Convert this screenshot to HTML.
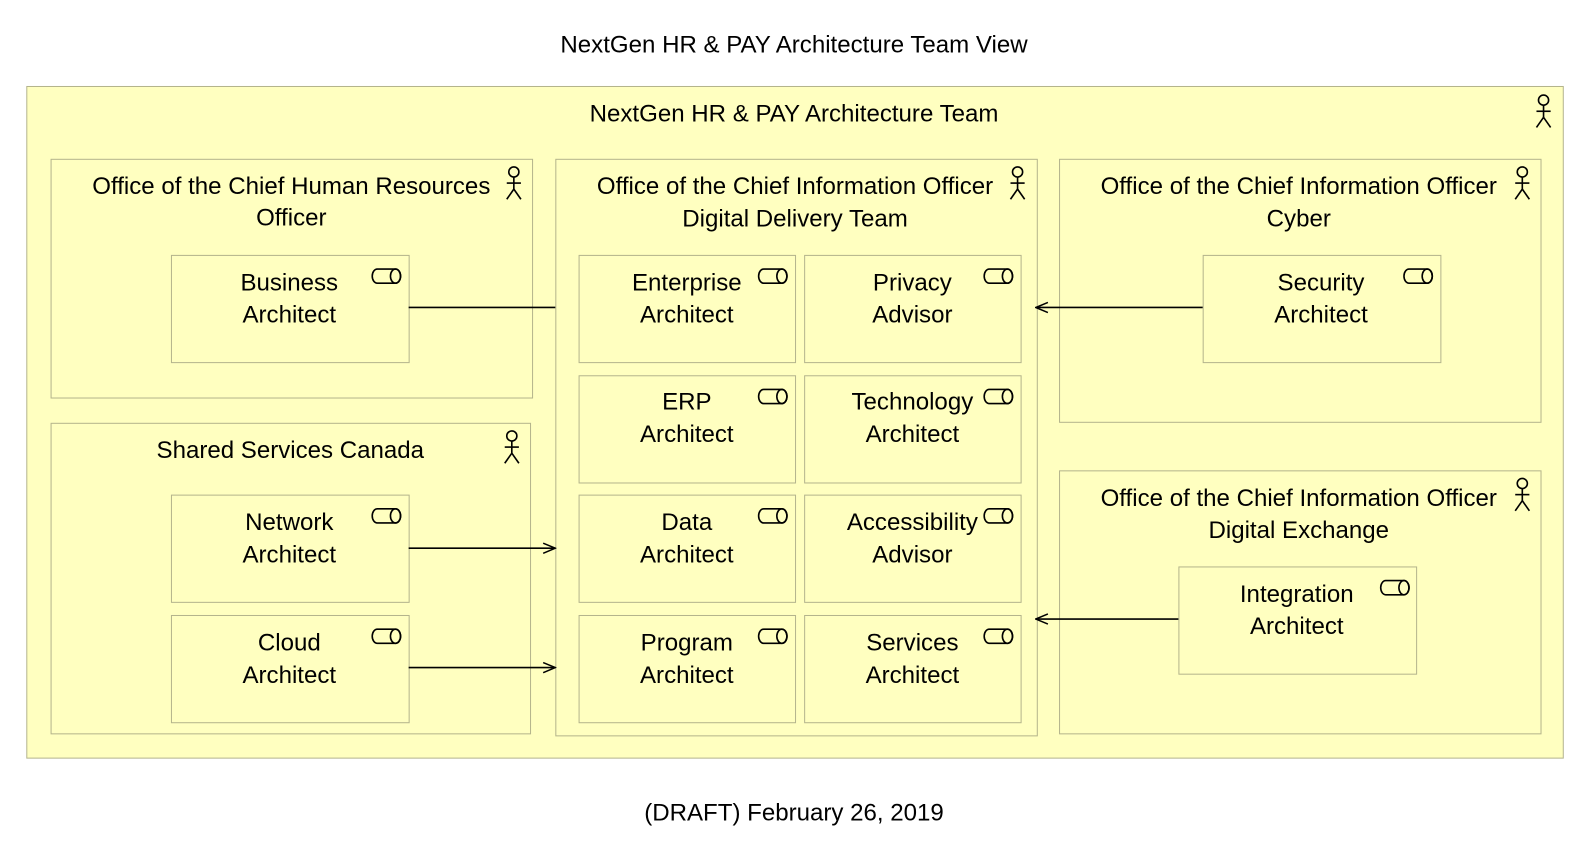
<!DOCTYPE html>
<html><head><meta charset="utf-8"><style>
html,body{margin:0;padding:0;background:#fff;overflow:hidden;width:1586px;height:860px}
svg{display:block}
svg text{font-family:"Liberation Sans",sans-serif;font-size:23.8px;fill:#000;text-anchor:middle}
.b{fill:#ffffc0;stroke:#b4b48c;stroke-width:1}
</style></head><body>
<svg width="1586" height="860" xmlns="http://www.w3.org/2000/svg">
<defs>
<g id="act" fill="none" stroke="#000" stroke-width="1.6"><circle cx="0" cy="-11" r="5"/><line x1="0" y1="-6" x2="0" y2="6"/><line x1="-7" y1="0" x2="7" y2="0"/><line x1="0" y1="6" x2="-7" y2="16"/><line x1="0" y1="6" x2="7" y2="16"/></g>
<g id="role" fill="none" stroke="#000" stroke-width="1.6"><path d="M-9,-7 H9 A5,7 0 0 1 9,7 H-9 A5,7 0 0 1 -9,-7 Z"/><ellipse cx="9" cy="0" rx="5" ry="7"/></g>
<marker id="ar" markerWidth="14" markerHeight="12" refX="13" refY="6" orient="auto" markerUnits="userSpaceOnUse"><path d="M1,1 L13,6 L1,11" fill="none" stroke="#000" stroke-width="1.5"/></marker>
</defs>
<g transform="scale(1.0115)">
<text x="785" y="52">NextGen HR &amp; PAY Architecture Team View</text>
<rect class="b" x="26.5" y="85.5" width="1519" height="664"/>
<text x="785" y="120">NextGen HR &amp; PAY Architecture Team</text>
<use href="#act" x="1526" y="110"/>

<rect class="b" x="50.5" y="157.5" width="476" height="236"/>
<text x="288" y="192">Office of the Chief Human Resources</text><text x="288" y="223">Officer</text>
<use href="#act" x="508" y="181"/>
<rect class="b" x="169.5" y="252.5" width="235" height="106"/>
<text x="286" y="287">Business</text><text x="286" y="319">Architect</text><use href="#role" x="382" y="273"/>

<rect class="b" x="50.5" y="418.5" width="474" height="307"/>
<text x="287" y="453">Shared Services Canada</text>
<use href="#act" x="506" y="442"/>
<rect class="b" x="169.5" y="489.5" width="235" height="106"/>
<text x="286" y="524">Network</text><text x="286" y="556">Architect</text><use href="#role" x="382" y="510"/>
<rect class="b" x="169.5" y="608.5" width="235" height="106"/>
<text x="286" y="643">Cloud</text><text x="286" y="675">Architect</text><use href="#role" x="382" y="629"/>

<rect class="b" x="549.5" y="157.5" width="476" height="570"/>
<text x="786" y="192">Office of the Chief Information Officer</text><text x="786" y="224">Digital Delivery Team</text>
<use href="#act" x="1006" y="181"/>
<rect class="b" x="572.5" y="252.5" width="214" height="106"/><text x="679" y="287">Enterprise</text><text x="679" y="319">Architect</text><use href="#role" x="764" y="273"/>
<rect class="b" x="795.5" y="252.5" width="214" height="106"/><text x="902" y="287">Privacy</text><text x="902" y="319">Advisor</text><use href="#role" x="987" y="273"/>
<rect class="b" x="572.5" y="371.5" width="214" height="106"/><text x="679" y="405">ERP</text><text x="679" y="437">Architect</text><use href="#role" x="764" y="392"/>
<rect class="b" x="795.5" y="371.5" width="214" height="106"/><text x="902" y="405">Technology</text><text x="902" y="437">Architect</text><use href="#role" x="987" y="392"/>
<rect class="b" x="572.5" y="489.5" width="214" height="106"/><text x="679" y="524">Data</text><text x="679" y="556">Architect</text><use href="#role" x="764" y="510"/>
<rect class="b" x="795.5" y="489.5" width="214" height="106"/><text x="902" y="524">Accessibility</text><text x="902" y="556">Advisor</text><use href="#role" x="987" y="510"/>
<rect class="b" x="572.5" y="608.5" width="214" height="106"/><text x="679" y="643">Program</text><text x="679" y="675">Architect</text><use href="#role" x="764" y="629"/>
<rect class="b" x="795.5" y="608.5" width="214" height="106"/><text x="902" y="643">Services</text><text x="902" y="675">Architect</text><use href="#role" x="987" y="629"/>

<rect class="b" x="1047.5" y="157.5" width="476" height="260"/>
<text x="1284" y="192">Office of the Chief Information Officer</text><text x="1284" y="224">Cyber</text>
<use href="#act" x="1505" y="181"/>
<rect class="b" x="1189.5" y="252.5" width="235" height="106"/><text x="1306" y="287">Security</text><text x="1306" y="319">Architect</text><use href="#role" x="1402" y="273"/>

<rect class="b" x="1047.5" y="465.5" width="476" height="260"/>
<text x="1284" y="500">Office of the Chief Information Officer</text><text x="1284" y="532">Digital Exchange</text>
<use href="#act" x="1505" y="489"/>
<rect class="b" x="1165.5" y="560.5" width="235" height="106"/><text x="1282" y="595">Integration</text><text x="1282" y="627">Architect</text><use href="#role" x="1379" y="581"/>

<g stroke="#000" stroke-width="1.6" fill="none">
<line x1="404" y1="304" x2="549" y2="304"/>
<line x1="404" y1="542" x2="549" y2="542" marker-end="url(#ar)"/>
<line x1="404" y1="660" x2="549" y2="660" marker-end="url(#ar)"/>
<line x1="1189" y1="304" x2="1024" y2="304" marker-end="url(#ar)"/>
<line x1="1165" y1="612" x2="1024" y2="612" marker-end="url(#ar)"/>
</g>
<text x="785" y="811">(DRAFT) February 26, 2019</text>
</g>
</svg>
</body></html>
